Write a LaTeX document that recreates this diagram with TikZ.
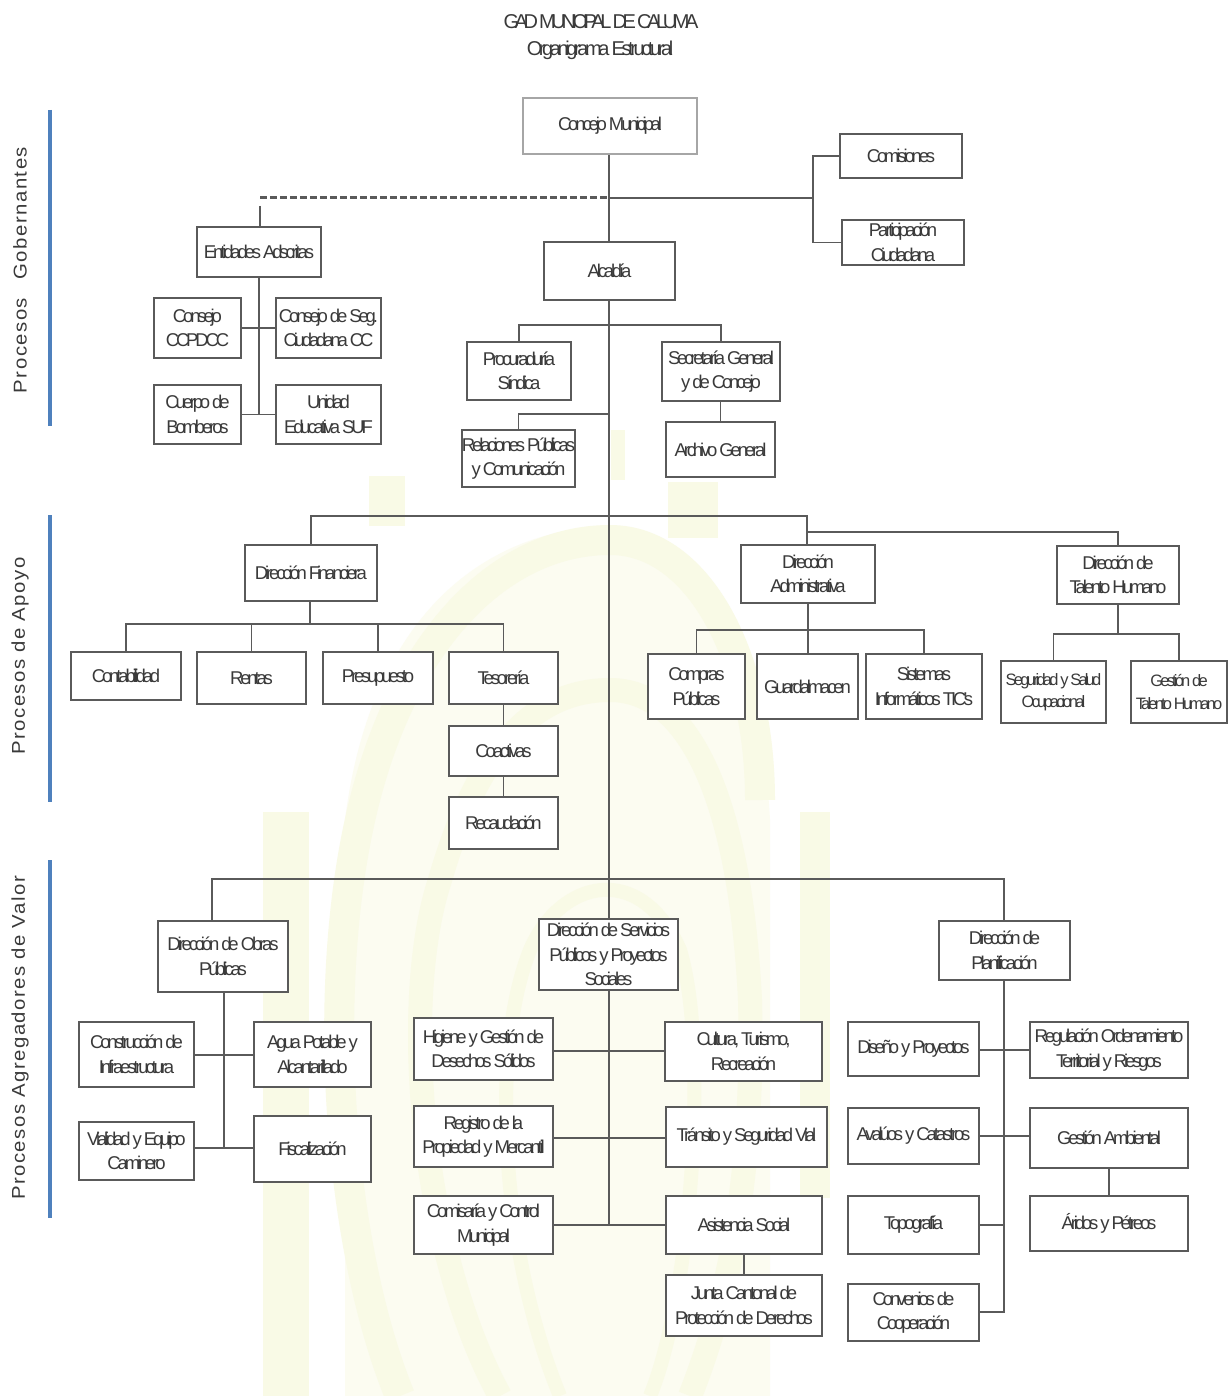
\documentclass[tikz,border=0pt]{standalone}
\usepackage{fontspec}
\setmainfont[LetterSpace=-17]{Liberation Sans}
\newfontfamily\sidefont[LetterSpace=8,FakeStretch=1.1]{Liberation Sans}
\newfontfamily\titleAfont[LetterSpace=-22]{Liberation Sans}
\newfontfamily\titleBfont[LetterSpace=-17]{Liberation Sans}
\definecolor{ink}{HTML}{3A3A3A}
\definecolor{linec}{HTML}{5A5A5A}
\definecolor{barblue}{HTML}{4F81BD}
\definecolor{wm}{HTML}{F9FAE6}
\definecolor{wmb}{HTML}{FCFCF1}
\pgfdeclarelayer{wmlayer}
\pgfdeclarelayer{connlayer}
\pgfsetlayers{wmlayer,connlayer,main}
\tikzset{
 org/.style={draw=linec,line width=1.2pt,fill=white,align=center,text=ink,inner sep=0pt,font=\fontsize{18.5}{24.5}\selectfont},
 small/.style={font=\fontsize{16.5}{22}\selectfont},
 conn/.style={draw=linec,line width=1.2pt},
 sidebar/.style={draw=barblue,line width=3.2pt},
 sidelabel/.style={rotate=90,text=ink,font=\sidefont\fontsize{18.5}{20}\selectfont},
 titletext/.style={text=ink},
 wmark/.style={draw=wm,line cap=butt}
}
\newcommand{\boxn}[7][]{%
 \node[org,#1,minimum width={(#5-#3)*1pt},minimum height={(#6-#4)*1pt}] (#2) at ({(#3+#5)/2},{(#4+#6)/2}) {#7};%
}
\begin{document}
\begin{tikzpicture}[x=1pt,y=-1pt]
\useasboundingbox (0,0) rectangle (1231,1396);
\begin{pgfonlayer}{wmlayer}
\fill[white] (0,0) rectangle (1231,1396);
\fill[wmb] (345,820) .. controls (370,620) and (480,530) .. (610,526) .. controls (700,530) and (760,640) .. (770,820) -- (770,1396) -- (345,1396) -- cycle;
\draw[wmark,line width=46pt] (286,1396) -- (286,812);
\draw[wmark,line width=30pt] (815,812) -- (815,1198);
\draw[wmark,line width=36pt] (387,476) -- (387,526);
\draw[wmark,line width=50pt] (693,482) -- (693,538);
\draw[wmark,line width=14pt] (618,430) -- (618,480);
\draw[wmark,line width=30pt] (400,1396) .. controls (340,1250) and (320,1000) .. (360,820) .. controls (400,640) and (500,540) .. (610,540) .. controls (700,540) and (760,660) .. (760,800);
\draw[wmark,line width=24pt] (500,1396) .. controls (420,1250) and (400,1000) .. (440,880) .. controls (480,740) and (540,690) .. (610,690) .. controls (690,690) and (740,800) .. (750,1000) .. controls (755,1200) and (720,1320) .. (690,1396);
\draw[wmark,line width=14pt] (560,1396) .. controls (500,1250) and (490,1050) .. (530,950) .. controls (560,880) and (640,860) .. (680,950) .. controls (710,1050) and (690,1300) .. (650,1396);
\end{pgfonlayer}
% boxes
\boxn[draw=gray!70,line width=2.6pt]{concejo}{523}{98}{697}{154}{Concejo Municipal}
\boxn{comisiones}{840}{134}{962}{178}{Comisiones}
\boxn{participacion}{842}{220}{964}{265}{Participación\\Ciudadana}
\boxn{entidades}{197}{227}{321}{277}{Entidades Adscritas}
\boxn{ocpdcc}{154}{298}{241}{358}{Consejo\\CCPDCC}
\boxn{seg}{276}{298}{381}{358}{Consejo de Seg.\\Ciudadana CC}
\boxn{cuerpo}{154}{385}{241}{444}{Cuerpo de\\Bomberos}
\boxn{unidad}{276}{385}{381}{444}{Unidad\\Educativa SUF}
\boxn{alcaldia}{544}{242}{675}{300}{Alcaldía}
\boxn{procuraduria}{467}{342}{571}{400}{Procuraduría\\Síndica}
\boxn{secretaria}{662}{342}{780}{401}{Secretaría General\\y de Concejo}
\boxn{relaciones}{462}{430}{575}{487}{Relaciones Públicas\\y Comunicación}
\boxn{archivo}{666}{422}{775}{477}{Archivo General}
\boxn{financiera}{245}{545}{377}{601}{Dirección Financiera}
\boxn{administrativa}{741}{545}{875}{603}{Dirección\\Administrativa}
\boxn{talento}{1057}{546}{1179}{604}{Dirección de\\Talento Humano}
\boxn{contabilidad}{71}{652}{181}{700}{Contabilidad}
\boxn{rentas}{197}{652}{306}{704}{Rentas}
\boxn{presupuesto}{323}{652}{433}{704}{Presupuesto}
\boxn{tesoreria}{449}{652}{558}{704}{Tesorería}
\boxn{coactivas}{449}{726}{558}{776}{Coactivas}
\boxn{recaudacion}{449}{797}{558}{849}{Recaudación}
\boxn{compras}{648}{654}{745}{719}{Compras\\Públicas}
\boxn{guardalmacen}{757}{654}{858}{719}{Guardalmacen}
\boxn{sistemas}{866}{654}{982}{719}{Sistemas\\Informáticos TIC's}
\boxn[small]{seguridad}{1001}{661}{1106}{723}{Seguridad y Salud\\Ocupacional}
\boxn[small]{gestionth}{1131}{661}{1227}{723}{Gestión de\\Talento Humano}
\boxn{obras}{158}{921}{288}{992}{Dirección de Obras\\Públicas}
\boxn{servicios}{539}{919}{678}{990}{Dirección de Servicios\\Públicos y Proyectos\\Sociales}
\boxn{planificacion}{939}{921}{1070}{980}{Dirección de\\Planificación}
\boxn{construccion}{79}{1022}{194}{1087}{Construcción de\\Infraestructura}
\boxn{agua}{254}{1022}{371}{1087}{Agua Potable y\\Alcantarillado}
\boxn{vialidad}{79}{1122}{194}{1180}{Vialidad y Equipo\\Caminero}
\boxn{fiscalizacion}{254}{1116}{371}{1182}{Fiscalización}
\boxn{higiene}{414}{1018}{553}{1080}{Higiene y Gestión de\\Desechos Sólidos}
\boxn{registro}{414}{1106}{553}{1167}{Registro de la\\Propiedad y Mercantil}
\boxn{comisaria}{414}{1196}{553}{1254}{Comisaría y Control\\Municipal}
\boxn{cultura}{665}{1022}{822}{1081}{Cultura, Turismo,\\Recreación}
\boxn{transito}{666}{1107}{827}{1167}{Tránsito y Seguridad Vial}
\boxn{asistencia}{666}{1196}{822}{1254}{Asistencia Social}
\boxn{junta}{666}{1275}{822}{1336}{Junta Cantonal de\\Protección de Derechos}
\boxn{diseno}{848}{1022}{979}{1076}{Diseño y Proyectos}
\boxn{regulacion}{1030}{1022}{1188}{1078}{Regulación Ordenamiento\\Territorial y Riesgos}
\boxn{avaluos}{848}{1108}{979}{1164}{Avalúos y Catastros}
\boxn{gestiona}{1030}{1108}{1188}{1168}{Gestión Ambiental}
\boxn{topografia}{848}{1196}{979}{1254}{Topografía}
\boxn{aridos}{1030}{1196}{1188}{1251}{Áridos y Pétreos}
\boxn{convenios}{848}{1284}{979}{1341}{Convenios de\\Cooperación}
% bars and labels
\coordinate (b1a) at (50,110); \coordinate (b1b) at (50,426);
\coordinate (b2a) at (50,515); \coordinate (b2b) at (50,802);
\coordinate (b3a) at (50,860); \coordinate (b3b) at (50,1218);
\draw[sidebar] (b1a) -- (b1b); \draw[sidebar] (b2a) -- (b2b); \draw[sidebar] (b3a) -- (b3b);
\node[sidelabel] (lab1) at (20,270) {Procesos\quad Gobernantes};
\node[sidelabel] (lab2) at (20,656) {Procesos de Apoyo};
\node[sidelabel] (lab3) at (20,1038) {Procesos Agregadores de Valor};
\node[titletext,font=\titleAfont\fontsize{20}{24}\selectfont] (t1) at (601,22) {GAD MUNICIPAL DE CALUMA};
\node[titletext,font=\titleBfont\fontsize{20}{24}\selectfont] (t2) at (600,50) {Organigrama Estructural};
% junction coordinates
\coordinate (sptop) at (609,154);
\coordinate (spend) at (609,1225);
\coordinate (dashL) at (260,198);
\coordinate (dashM) at (609,198);
\coordinate (brk) at (813,198);
\coordinate (entTop) at (260,206);
\coordinate (alcJ) at (609,325);
\coordinate (relJ) at (609,414);
\coordinate (apoyoJ) at (609,516);
\coordinate (adJ) at (807,516);
\coordinate (talJ) at (807,532);
\coordinate (finJ) at (310,624);
\coordinate (admJ) at (808,630);
\coordinate (talK) at (1118,634);
\coordinate (valJ) at (609,879);
\coordinate (obrasEnd) at (224,1148);
\coordinate (entEnd) at (259,415);
\coordinate (plaEnd) at (1004,1312);
\coordinate (valL) at (212,879);
\coordinate (valR) at (1004,879);
\begin{pgfonlayer}{connlayer}
\draw[conn] (sptop) -- (spend);
\draw[conn,line width=3pt,dash pattern=on 7pt off 3pt] (dashL) -- (dashM);
\draw[conn,line width=2.4pt] (dashM) -- (brk);
\draw[conn] (comisiones.west) -| (brk) |- (participacion.west);
\draw[conn] (entTop) -- (entidades.north -| entTop);
\draw[conn] (entidades.south -| entEnd) -- (entEnd);
\draw[conn] (ocpdcc.east) -- (seg.west);
\draw[conn] (cuerpo.east) -- (unidad.west);
\draw[conn] (procuraduria.north) |- (alcJ) -| (secretaria.north);
\draw[conn] (relaciones.north) |- (relJ);
\draw[conn] (secretaria.south -| archivo.north) -- (archivo.north);
\draw[conn] (financiera.north) |- (apoyoJ);
\draw[conn] (apoyoJ) -- (adJ) -- (adJ |- administrativa.north);
\draw[conn] (talJ) -| (talento.north);
\draw[conn] (finJ |- financiera.south) -- (finJ);
\draw[conn] (contabilidad.north) |- (finJ) -| (tesoreria.north);
\draw[conn] (rentas.north) -- (rentas.north |- finJ);
\draw[conn] (presupuesto.north) -- (presupuesto.north |- finJ);
\draw[conn] (tesoreria.south) -- (coactivas.north);
\draw[conn] (coactivas.south) -- (recaudacion.north);
\draw[conn] (admJ |- administrativa.south) -- (admJ |- guardalmacen.north);
\draw[conn] (compras.north) |- (admJ) -| (sistemas.north);
\draw[conn] (talento.south) -- (talK);
\draw[conn] (seguridad.north) |- (talK) -| (gestionth.north);
\draw[conn] (valL |- obras.north) -- (valL) -- (valR) -- (valR |- planificacion.north);
\draw[conn] (obrasEnd |- obras.south) -- (obrasEnd);
\draw[conn] (construccion.east |- 0,1055) -- (agua.west |- 0,1055);
\draw[conn] (vialidad.east |- obrasEnd) -- (fiscalizacion.west |- obrasEnd);
\draw[conn] (higiene.east |- 0,1051) -- (cultura.west |- 0,1051);
\draw[conn] (registro.east |- 0,1138) -- (transito.west |- 0,1138);
\draw[conn] (comisaria.east) -- (asistencia.west);
\draw[conn] (asistencia.south) -- (junta.north);
\draw[conn] (plaEnd |- planificacion.south) -- (plaEnd) -- (convenios.east |- plaEnd);
\draw[conn] (diseno.east |- 0,1050) -- (regulacion.west |- 0,1050);
\draw[conn] (avaluos.east |- 0,1136) -- (gestiona.west |- 0,1136);
\draw[conn] (topografia.east) -- (topografia.east -| plaEnd);
\draw[conn] (gestiona.south) -- (aridos.north);
\end{pgfonlayer}
\end{tikzpicture}
\end{document}
